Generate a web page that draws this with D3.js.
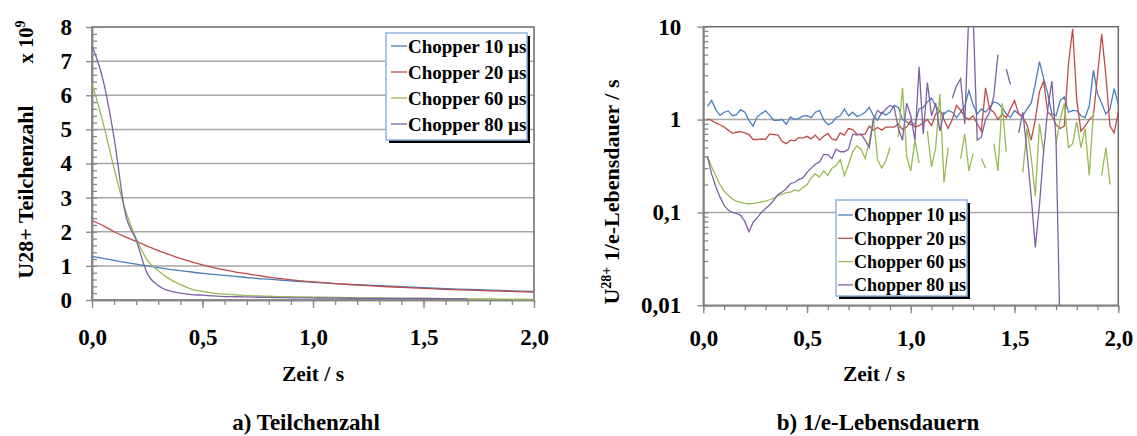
<!DOCTYPE html>
<html>
<head>
<meta charset="utf-8">
<script src="https://cdn.jsdelivr.net/npm/d3@7/dist/d3.min.js"></script>
<style>
    body { margin: 0; background: #fff; }
    svg text { font-family: "Liberation Serif", "Times New Roman", serif; font-weight: bold; fill: #000; }
</style>
</head>
<body>
<div id="viz"></div>
<script>
const seriesNames = ['Chopper 10 µs', 'Chopper 20 µs', 'Chopper 60 µs', 'Chopper 80 µs'];
const seriesColors = ['#4a7ebb', '#be4b48', '#98b954', '#7d60a0'];

// a) Teilchenzahl (x 10^9)
const timeA = [0, 0.05, 0.1, 0.15, 0.2, 0.25, 0.3, 0.35, 0.4, 0.45, 0.5, 0.55, 0.6, 0.65, 0.7, 0.75, 0.8, 0.85, 0.9, 0.95,
    1.0, 1.1, 1.2, 1.3, 1.4, 1.5, 1.6, 1.7, 1.8, 1.9, 2.0];
const countC10 = [1.28, 1.22, 1.16, 1.1, 1.05, 1.0, 0.95, 0.9, 0.86, 0.82, 0.78, 0.75, 0.72, 0.69, 0.66, 0.63, 0.61, 0.58, 0.56, 0.54,
    0.52, 0.48, 0.45, 0.42, 0.39, 0.36, 0.33, 0.31, 0.29, 0.27, 0.25];
const countC20 = [2.33, 2.18, 2.0, 1.85, 1.72, 1.58, 1.45, 1.33, 1.22, 1.12, 1.03, 0.95, 0.88, 0.82, 0.77, 0.72, 0.67, 0.63, 0.59, 0.56,
    0.53, 0.48, 0.44, 0.40, 0.37, 0.34, 0.31, 0.29, 0.27, 0.25, 0.23];
const countC60 = [6.35, 5.2, 3.85, 2.65, 1.8, 1.17, 0.86, 0.62, 0.45, 0.32, 0.25, 0.2, 0.17, 0.15, 0.13, 0.12, 0.11, 0.1, 0.095, 0.09,
    0.085, 0.075, 0.065, 0.06, 0.05, 0.045, 0.04, 0.035, 0.03, 0.025, 0.02];
const countC80 = [7.45, 6.45, 4.75, 2.55, 1.75, 0.78, 0.42, 0.27, 0.2, 0.16, 0.14, 0.12, 0.1, 0.095, 0.09, 0.08, 0.075, 0.07, 0.065, 0.06,
    0.06, 0.055, 0.05, 0.05, 0.045, 0.045, 0.04, 0.035, null, null, null];
const countTicks = [0, 1, 2, 3, 4, 5, 6, 7, 8];

// b) 1/e-Lebensdauern / s
const timeB = [
    0.02, 0.04, 0.06, 0.08, 0.10, 0.12, 0.14, 0.16, 0.18, 0.20,
    0.22, 0.24, 0.26, 0.28, 0.30, 0.32, 0.34, 0.36, 0.38, 0.40,
    0.42, 0.44, 0.46, 0.48, 0.50, 0.52, 0.54, 0.56, 0.58, 0.60,
    0.62, 0.64, 0.66, 0.68, 0.70, 0.72, 0.74, 0.76, 0.78, 0.80,
    0.82, 0.84, 0.86, 0.88, 0.90, 0.92, 0.94, 0.96, 0.98, 1.00,
    1.02, 1.04, 1.06, 1.08, 1.10, 1.12, 1.14, 1.16, 1.18, 1.20,
    1.22, 1.24, 1.26, 1.28, 1.30, 1.32, 1.34, 1.36, 1.38, 1.40,
    1.42, 1.44, 1.46, 1.48, 1.50, 1.52, 1.54, 1.56, 1.58, 1.60,
    1.62, 1.64, 1.66, 1.68, 1.70, 1.72, 1.74, 1.76, 1.78, 1.80,
    1.82, 1.84, 1.86, 1.88, 1.90, 1.92, 1.94, 1.96, 1.98, 2.00];
const lifeC10 = [
    1.39, 1.61, 1.28, 1.11, 1.2, 1.24, 1.1, 1.13, 1.28, 1.2,
    0.98, 0.85, 1.07, 1.16, 1.24, 1.11, 0.98, 0.98, 1.0, 0.89,
    1.07, 1.0, 1.03, 1.09, 1.1, 1.05, 1.2, 1.25, 1.0, 0.88,
    0.92, 1.05, 1.1, 1.3, 1.1, 1.2, 1.08, 1.12, 1.2, 1.35,
    1.1, 0.98, 1.2, 1.12, 1.2, 1.42, 1.35, 1.0, 0.95, 0.88,
    0.9, 1.3, 1.35, 1.55, 1.7, 1.4, 1.2, 1.15, 1.25, 1.2,
    1.05, 1.2, 1.4, 2.05, 1.45, 1.15, 1.3, 1.2, 1.35, 1.55,
    1.5, 1.35, 1.15, 1.05, 1.25, 1.15, 1.1, 1.3, 1.5, 2.4,
    4.2, 2.8, 1.9, 1.15, 1.1, 1.6, 1.75, 1.2, 1.25, 1.25,
    1.1, 1.05, 1.4, 3.4, 1.9, 1.5, 1.15, 1.3, 2.15, 1.45];
const lifeC20 = [
    1.02, 0.98, 0.92, 0.88, 0.83, 0.77, 0.71, 0.73, 0.74, 0.72,
    0.69, 0.61, 0.61, 0.62, 0.61, 0.7, 0.69, 0.68, 0.58, 0.55,
    0.6, 0.59, 0.64, 0.63, 0.66, 0.62, 0.68, 0.6, 0.66, 0.71,
    0.62, 0.6, 0.72, 0.68, 0.8, 0.78, 0.7, 0.68, 0.7, 0.85,
    0.77, 0.82, 0.77, 0.83, 0.83, 0.83, 0.9, 0.78, 0.83, 0.97,
    0.83, 0.86, 0.93, 1.0, 0.86, 1.15, 1.26, 1.0, 0.8, 1.0,
    1.42, 1.26, 1.07, 1.0, 1.1, 0.9, 0.75, 2.2, 1.3, 1.2,
    1.0, 1.15, 1.05, 1.3, 1.6, 1.15, 1.05, 0.88, 0.6, 1.0,
    2.0, 2.6, 1.2, 1.1, 0.88, 0.8, 0.85, 4.0, 9.5, 1.6,
    0.75, 0.85, 1.0, 1.1, 3.0, 8.4, 3.0, 0.85, 0.72, 1.2];
const lifeC60 = [
    0.40, 0.31, 0.25, 0.20, 0.17, 0.153, 0.14, 0.132, 0.128, 0.125,
    0.124, 0.125, 0.127, 0.13, 0.132, 0.137, 0.143, 0.152, 0.157, 0.163,
    0.165, 0.175, 0.17, 0.185, 0.2, 0.235, 0.26, 0.24, 0.28, 0.25,
    0.3, 0.32, 0.37, 0.25, 0.33, 0.45, 0.52, 0.48, 0.38, 0.58,
    1.05, 0.37, 0.3, 0.36, 0.5, null, 0.65, 2.2, 0.4, 0.28,
    0.6, 0.34, null, 0.75, 0.31, 0.5, 1.9, 0.21, 0.5, null,
    null, 0.38, 0.7, 0.28, 0.43, null, 0.38, 0.3, null, 0.55,
    0.28, 1.5, 0.45, null, null, null, 0.27, 0.8, 0.4, 0.15,
    0.9, 0.45, null, null, 0.55, 1.0, 1.5, 0.5, 0.55, 0.95,
    0.5, 0.8, 0.25, 1.2, null, 0.25, 0.5, 0.2, null, null];
const lifeC80 = [
    0.40, 0.26, 0.19, 0.147, 0.12, 0.106, 0.1, 0.098, 0.093, 0.08,
    0.062, 0.078, 0.088, 0.1, 0.11, 0.12, 0.136, 0.156, 0.166, 0.18,
    0.205, 0.21, 0.226, 0.235, 0.27, 0.3, 0.33, 0.35, 0.42, 0.42,
    0.38, 0.48, 0.45, 0.45, 0.48, 0.7, 0.68, 0.7, 0.6, 0.5,
    1.0, 1.25, 1.15, 1.3, 1.42, 1.35, 0.8, 0.6, 1.5, 1.1,
    0.6, 3.7, 0.7, 2.5, 1.1, 1.5, 0.75, 1.2, null, 1.7,
    2.3, 2.75, 0.9, 15, 15, 0.6, 0.65, 1.0, 1.2, 1.8,
    5.0, null, 3.5, 2.4, null, 0.72, 1.2, 0.45, 0.15, 0.042,
    0.12, 0.45, 1.3, 2.6, 0.6, 0.004, null, null, null, null,
    null, null, null, null, null, null, null, null, null, null];
const lifeTicks = [0.01, 0.1, 1, 10];
const lifeTickLabels = ['0,01', '0,1', '1', '10'];
const timeTicks = [0, 0.5, 1, 1.5, 2];

const width = 1137;
const height = 436;
const axisGray = '#868686';
const gridGray = '#a6a6a6';
const tickFont = 23;
const fmtTime = d => d3.format('.1f')(d).replace('.', ',');

const svg = d3.select('#viz').append('svg')
    .attr('width', width)
    .attr('height', height);

function styleAxis(g) {
    g.attr('font-family', null).attr('font-size', tickFont);
    g.selectAll('line').attr('stroke', axisGray).attr('stroke-width', 1.3);
    g.selectAll('.domain').attr('stroke', axisGray).attr('stroke-width', 1.5);
}

function drawLegend(x, y, w, h, rowY, rowH, swatch, size) {
    const g = svg.append('g').attr('transform', `translate(${x},${y})`);
    g.append('rect').attr('x', 3).attr('y', 3).attr('width', w).attr('height', h).attr('fill', '#000');
    g.append('rect').attr('width', w).attr('height', h)
        .attr('fill', '#fff').attr('stroke', '#8eb4e3').attr('stroke-width', 1.5);
    const rows = g.selectAll('g.row').data(seriesNames).enter().append('g')
        .attr('transform', (d, i) => `translate(0,${rowY + i * rowH})`);
    rows.append('line').attr('x1', swatch[0]).attr('x2', swatch[1])
        .attr('stroke', (d, i) => seriesColors[i]).attr('stroke-width', 1.3);
    rows.append('text').attr('x', swatch[1] + 1).attr('dy', '0.35em')
        .attr('font-size', size).text(d => d);
}

// ---------- a) Teilchenzahl ----------
const xA = d3.scaleLinear().domain([0, 2]).range([92, 534]);
const yA = d3.scaleLinear().domain([0, 8]).range([300, 27]);

svg.append('g').selectAll('line').data(countTicks.slice(1, -1)).enter().append('line')
    .attr('x1', xA(0)).attr('x2', xA(2))
    .attr('y1', d => yA(d)).attr('y2', d => yA(d))
    .attr('stroke', gridGray).attr('stroke-width', 1.5);

svg.append('rect')
    .attr('x', xA(0)).attr('y', yA(8))
    .attr('width', xA(2) - xA(0)).attr('height', yA(0) - yA(8))
    .attr('fill', 'none').attr('stroke', '#6a6a6a').attr('stroke-width', 1.5);

svg.append('g').attr('transform', `translate(${xA(0)},0)`)
    .call(d3.axisRight(yA).tickValues(d3.range(0, 8.001, 0.2)).tickSize(5).tickFormat('').tickSizeOuter(0))
    .call(styleAxis);
svg.append('g').attr('transform', `translate(0,${yA(0)})`)
    .call(d3.axisBottom(xA).tickValues(d3.range(0, 2.001, 0.1)).tickSize(5).tickFormat('').tickSizeOuter(0))
    .call(styleAxis);
svg.append('g').attr('transform', `translate(${xA(0)},0)`)
    .call(d3.axisLeft(yA).tickValues(countTicks).tickSize(6).tickPadding(14).tickSizeOuter(0))
    .call(styleAxis);
svg.append('g').attr('transform', `translate(0,${yA(0)})`)
    .call(d3.axisBottom(xA).tickValues(timeTicks).tickSize(8).tickPadding(21).tickFormat(fmtTime).tickSizeOuter(0))
    .call(styleAxis);

const lineA = d3.line()
    .defined(d => d.v != null)
    .curve(d3.curveMonotoneX)
    .x(d => xA(d.t))
    .y(d => yA(d.v));

[countC10, countC20, countC60, countC80].forEach((vals, i) => {
    svg.append('path')
        .datum(timeA.map((t, j) => ({ t: t, v: vals[j] })))
        .attr('d', lineA)
        .attr('fill', 'none')
        .attr('stroke', seriesColors[i])
        .attr('stroke-width', 1.3);
});

drawLegend(386, 33, 141, 107, 13, 26, [5, 21], 19);

svg.append('text')
    .attr('transform', 'translate(33,192) rotate(-90)')
    .attr('text-anchor', 'middle').attr('font-size', 22)
    .text('U28+ Teilchenzahl');
svg.append('text')
    .attr('transform', 'translate(33,42) rotate(-90)')
    .attr('text-anchor', 'middle').attr('font-size', 20.5)
    .text('x 10')
    .append('tspan').attr('dy', -8).attr('font-size', 14).text('9');

svg.append('text').attr('x', 313).attr('y', 381)
    .attr('text-anchor', 'middle').attr('font-size', 21.5).text('Zeit / s');
svg.append('text').attr('x', 306).attr('y', 430)
    .attr('text-anchor', 'middle').attr('font-size', 23).text('a) Teilchenzahl');

// ---------- b) 1/e-Lebensdauern ----------
const xB = d3.scaleLinear().domain([0, 2]).range([703.3, 1118.3]);
const yB = d3.scaleLog().domain([0.01, 10]).range([305.3, 26.7]);

svg.append('defs').append('clipPath').attr('id', 'clipB')
    .append('rect')
    .attr('x', xB(0)).attr('y', yB(10))
    .attr('width', xB(2) - xB(0)).attr('height', yB(0.01) - yB(10));

svg.append('g').selectAll('line').data(lifeTicks.slice(1, -1)).enter().append('line')
    .attr('x1', xB(0)).attr('x2', xB(2))
    .attr('y1', d => yB(d)).attr('y2', d => yB(d))
    .attr('stroke', gridGray).attr('stroke-width', 1.5);

svg.append('rect')
    .attr('x', xB(0)).attr('y', yB(10))
    .attr('width', xB(2) - xB(0)).attr('height', yB(0.01) - yB(10))
    .attr('fill', 'none').attr('stroke', '#6a6a6a').attr('stroke-width', 1.5);

svg.append('g').attr('transform', `translate(${xB(0)},0)`)
    .call(d3.axisRight(yB).tickValues(yB.ticks()).tickSize(5).tickFormat('').tickSizeOuter(0))
    .call(styleAxis);
svg.append('g').attr('transform', `translate(0,${yB(0.01)})`)
    .call(d3.axisBottom(xB).tickValues(d3.range(0, 2.001, 0.1)).tickSize(5).tickFormat('').tickSizeOuter(0))
    .call(styleAxis);
svg.append('g').attr('transform', `translate(${xB(0)},0)`)
    .call(d3.axisLeft(yB).tickValues(lifeTicks).tickSize(6).tickPadding(16)
        .tickFormat((d, i) => lifeTickLabels[i]).tickSizeOuter(0))
    .call(styleAxis);
svg.append('g').attr('transform', `translate(0,${yB(0.01)})`)
    .call(d3.axisBottom(xB).tickValues(timeTicks).tickSize(8).tickPadding(16).tickFormat(fmtTime).tickSizeOuter(0))
    .call(styleAxis);

const lineB = d3.line()
    .defined(d => d.v != null)
    .x(d => xB(d.t))
    .y(d => yB(d.v));

const plotB = svg.append('g').attr('clip-path', 'url(#clipB)');
[lifeC10, lifeC20, lifeC60, lifeC80].forEach((vals, i) => {
    plotB.append('path')
        .datum(timeB.map((t, j) => ({ t: t, v: vals[j] })))
        .attr('d', lineB)
        .attr('fill', 'none')
        .attr('stroke', seriesColors[i])
        .attr('stroke-width', 1.3);
});

drawLegend(836, 200, 131, 96, 15, 23.3, [2, 17], 18);

const titleB = svg.append('text')
    .attr('transform', 'translate(619,192) rotate(-90)')
    .attr('text-anchor', 'middle').attr('font-size', 22);
titleB.append('tspan').text('U');
titleB.append('tspan').attr('dy', -8).attr('font-size', 14).text('28+');
titleB.append('tspan').attr('dy', 8).text(' 1/e-Lebensdauer / s');

svg.append('text').attr('x', 874).attr('y', 381)
    .attr('text-anchor', 'middle').attr('font-size', 21.5).text('Zeit / s');
svg.append('text').attr('x', 878).attr('y', 430)
    .attr('text-anchor', 'middle').attr('font-size', 23).text('b) 1/e-Lebensdauern');
</script>
</body>
</html>
